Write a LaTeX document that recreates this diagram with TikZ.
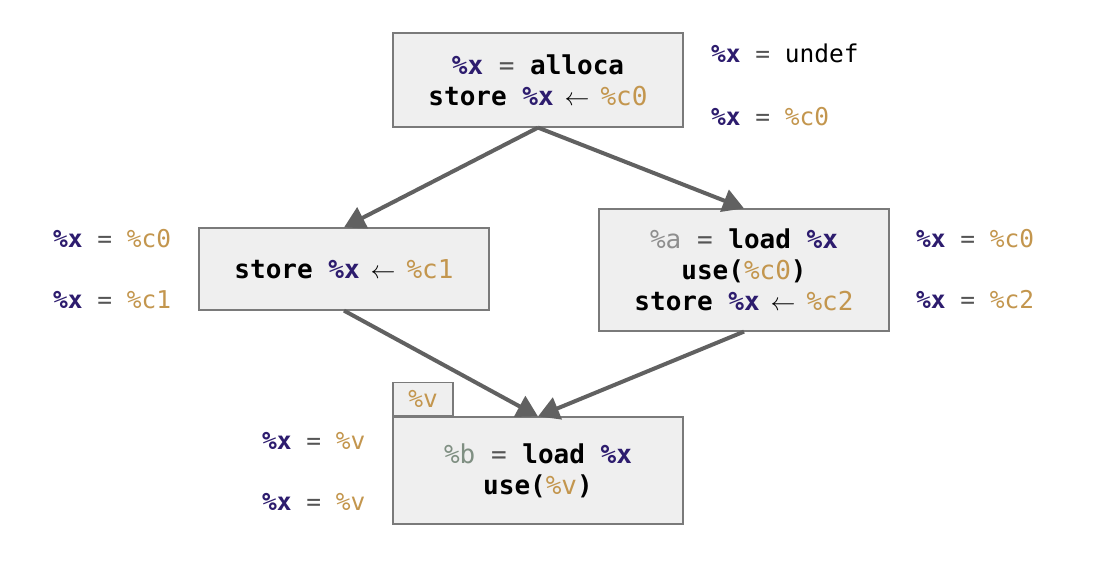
\documentclass[tikz,border=0pt]{standalone}
\usepackage{fontspec}
\setmonofont{DejaVu Sans Mono}
\usetikzlibrary{positioning}
\usetikzlibrary{arrows.meta}
\definecolor{varx}{HTML}{2D1C6E}
\definecolor{cst}{HTML}{C3964E}
\definecolor{vala}{HTML}{8E8E8E}
\definecolor{valb}{HTML}{7F8F82}
\definecolor{boxfill}{HTML}{EFEFEF}
\definecolor{boxline}{HTML}{7A7A7A}
\definecolor{edge}{HTML}{616161}
\definecolor{eqs}{HTML}{555555}
\newcommand{\rx}{\textbf{\textcolor{varx}{\%x}}}
\newcommand{\cv}[1]{\textcolor{cst}{\%#1}}
\newcommand{\eq}{\textcolor{eqs}{=}}
\newcommand{\storeto}{\makebox[0.6em]{$\leftarrow$}}

\begin{document}
\begin{tikzpicture}[x=1pt, y=-1pt, >={Triangle[length=21pt, width=23pt]},
                    block/.style={draw=boxline, fill=boxfill, line width=1.2pt, minimum width=290pt, align=center, inner sep=0pt,
                                  font=\ttfamily\fontsize{26}{31}\selectfont},
                    note/.style={anchor=base west, inner sep=0pt, font=\ttfamily\fontsize{24.5}{30}\selectfont},
                    flow/.style={->, draw=edge, fill=edge, line width=4pt}]
    \useasboundingbox (0,0) rectangle (1102,562);

    % basic blocks
    \node[block, minimum height=94pt] (entry) at (538,80) {\rx{} \eq{} \textbf{alloca}\\\textbf{store} \rx{} \storeto{} \cv{c0}};
    \node[block, minimum height=82pt] (left) at (344,269) {\textbf{store} \rx{} \storeto{} \cv{c1}};
    \node[block, minimum height=122pt] (right) at (744,270) {\textcolor{vala}{\%a} \eq{} \textbf{load} \rx\\\textbf{use(}\cv{c0}\textbf{)}\\\textbf{store} \rx{} \storeto{} \cv{c2}};
    \node[block, minimum height=107pt] (merge) at (538,470.5) {\textcolor{valb}{\%b} \eq{} \textbf{load} \rx\\\textbf{use(}\cv{v}\textbf{)}};
    \node[block, minimum width=60pt, minimum height=33pt, anchor=south west, font=\ttfamily\fontsize{24.5}{30}\selectfont] (tab) at (merge.north west) {\cv{v}};

    % edges
    \draw[flow] (entry.south) -- (left.north);
    \draw[flow] (entry.south) -- (right.north);
    \draw[flow] (left.south) -- (merge.north);
    \draw[flow] (right.south) -- (merge.north);

    % values of %x before and after each block
    \node[note] (entryin) at (711,62) {\rx{} \eq{} undef};
    \node[note] (entryout) at (711,125) {\rx{} \eq{} \cv{c0}};
    \node[note] (leftin) at (53,247) {\rx{} \eq{} \cv{c0}};
    \node[note] (leftout) at (53,308) {\rx{} \eq{} \cv{c1}};
    \node[note] (rightin) at (916,247) {\rx{} \eq{} \cv{c0}};
    \node[note] (rightout) at (916,308) {\rx{} \eq{} \cv{c2}};
    \node[note] (mergein) at (262,449) {\rx{} \eq{} \cv{v}};
    \node[note] (mergeout) at (262,510) {\rx{} \eq{} \cv{v}};
\end{tikzpicture}
\end{document}
